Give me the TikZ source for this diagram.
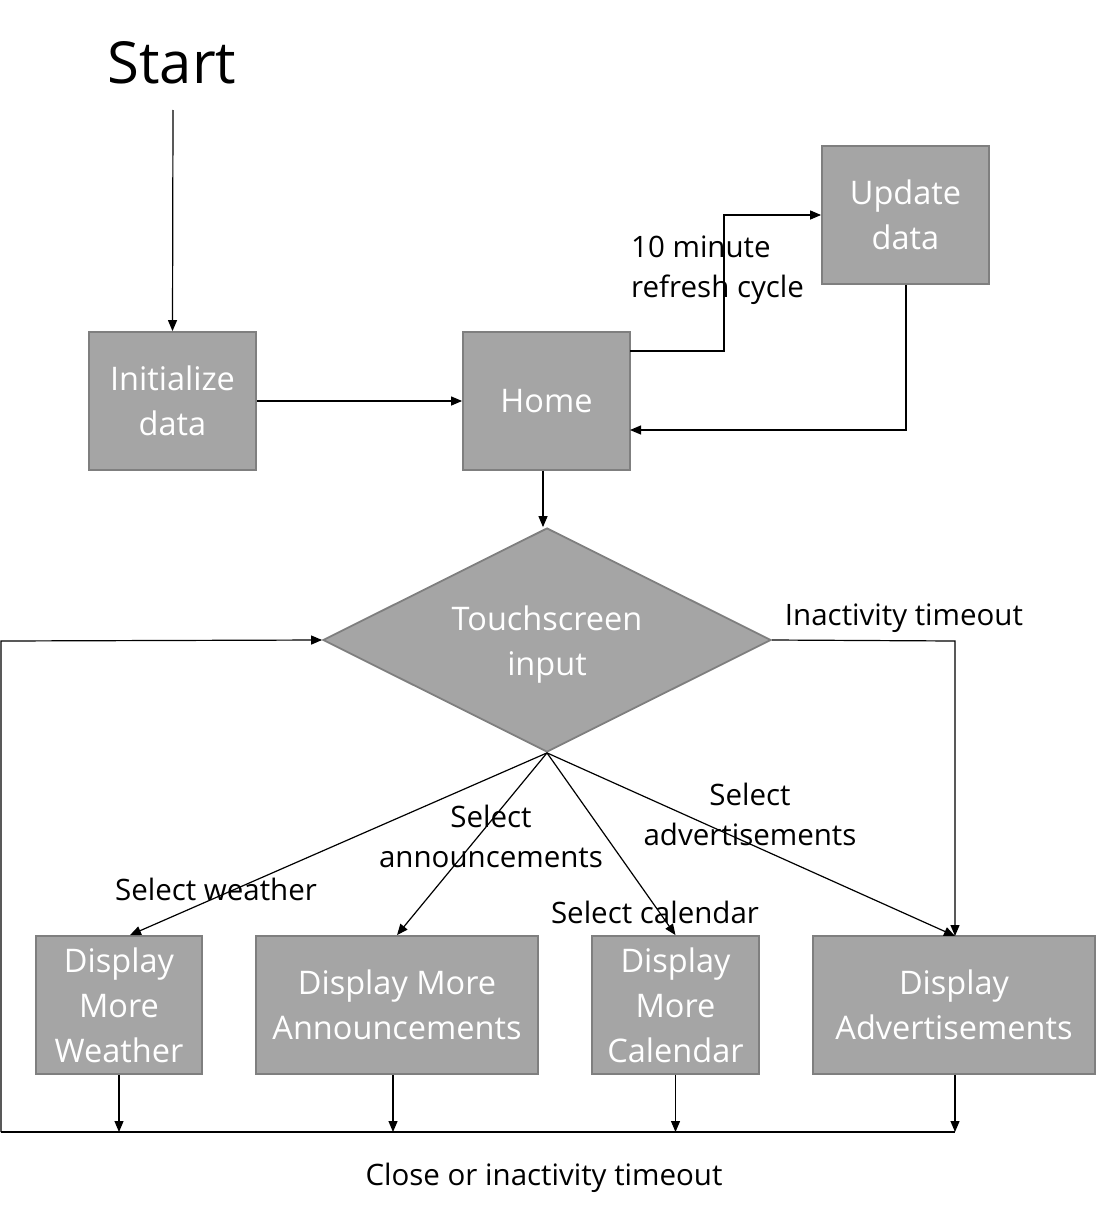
\documentclass[tikz,border=0pt]{standalone}
\usepackage{fontspec}
\setmainfont{Open Sans}
\usetikzlibrary{arrows.meta,shapes.geometric,calc}
\definecolor{boxfill}{HTML}{A5A5A5}
\definecolor{boxline}{HTML}{7F7F7F}
\tikzset{
  procbox/.style={draw=boxline,fill=boxfill,line width=1.8pt,text=white,align=center,
    inner sep=0pt,font=\fontsize{32.5}{45}\selectfont},
  decbox/.style={diamond,draw=boxline,fill=boxfill,line width=1.8pt,
    inner sep=0pt,aspect=2,minimum width=448pt,minimum height=224pt},
  dectext/.style={text=white,align=center,inner sep=0pt,yshift=-5pt,font=\fontsize{32.5}{45}\selectfont},
  lbl/.style={text=black,align=center,inner sep=0pt,yshift=-3pt,font=\fontsize{29.5}{40}\selectfont},
  conn/.style={line width=1.2pt,-{Triangle[length=11pt,width=9pt]}},
  plain/.style={line width=1.2pt}
}
\begin{document}
\begin{tikzpicture}[x=1pt,y=-1pt]
\useasboundingbox (0,0) rectangle (1096,1215);
\node[inner sep=0pt,font=\fontsize{58}{70}\selectfont] (start) at (172,63) {Start};
\coordinate (startb) at (173,110);
\node[procbox,minimum width=167pt,minimum height=138pt] (init) at (172.5,401) {Initialize\\data};
\node[procbox,minimum width=167pt,minimum height=138pt] (home) at (546.5,401) {Home};
\node[procbox,minimum width=167pt,minimum height=138pt] (upd) at (905.5,215) {Update\\data};
\node[decbox,label={[dectext]center:Touchscreen\\input}] (dia) at (547,640) {};
\node[procbox,minimum width=166pt,minimum height=138pt] (wea) at (119,1005) {Display\\More\\Weather};
\node[procbox,minimum width=282pt,minimum height=138pt] (ann) at (397,1005) {Display More\\Announcements};
\node[procbox,minimum width=167pt,minimum height=138pt] (cal) at (675.5,1005) {Display\\More\\Calendar};
\node[procbox,minimum width=282pt,minimum height=138pt] (adv) at (954,1005) {Display\\Advertisements};

\coordinate (hr) at (630,351);
\coordinate (hbend1) at (724,351);
\coordinate (hbend2) at (724,215);
\coordinate (ubend) at (906,430);
\coordinate (hin) at (630,430);
\coordinate (advn) at (955,936);
\coordinate (dright) at (955,641);
\coordinate (bl) at (1,1132);
\coordinate (tl) at (1,641);
\coordinate (br) at (955,1132);

\draw[conn] (startb) -- (init.north);
\draw[conn] (init.east) -- (home.west);
\draw[conn] (hr) -- (hbend1) -- (hbend2) -- (upd.west);
\draw[conn] (upd.south -| ubend) -- (ubend) -- (hin);
\draw[conn] (home.south -| 543,0) -- (dia.north -| 543,0);
\draw[conn] (dia.south) -- ($(wea.north)+(11,0)$);
\draw[conn] (dia.south) -- (ann.north);
\draw[conn] (dia.south) -- (cal.north);
\draw[conn] (dia.south) -- (advn);
\draw[conn] (dia.east) -- (dright) -- (advn);
\draw[conn] (bl) -- (tl) -- (dia.west);
\draw[plain] (bl) -- (br);
\draw[conn] (wea.south) -- (wea.south |- bl);
\draw[conn] (ann.south -| 393,0) -- (bl -| 393,0);
\draw[conn] (cal.south) -- (cal.south |- bl);
\draw[conn] (adv.south -| br) -- (br);

\node[lbl,align=left,anchor=west] (l10) at (631,267) {10 minute\\refresh cycle};
\node[lbl] (linact) at (904,615) {Inactivity timeout};
\node[lbl] (lwea) at (216,886) {Select weather};
\node[lbl] (lann) at (491,833) {Select\\announcements};
\node[lbl] (lcal) at (655,909) {Select calendar};
\node[lbl] (ladv) at (750,811) {Select\\advertisements};
\node[lbl] (lclose) at (544,1175) {Close or inactivity timeout};
\end{tikzpicture}
\end{document}
